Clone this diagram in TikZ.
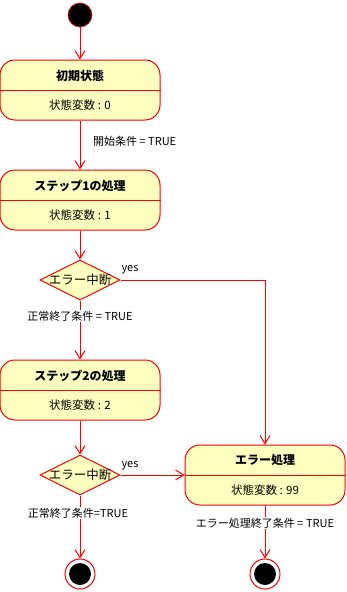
\documentclass[tikz,border=0pt]{standalone}
\usepackage{fontspec}
\setmainfont{Noto Sans CJK JP}
\usetikzlibrary{arrows.meta,shapes.geometric,positioning}
\definecolor{stroke}{HTML}{FF0000}
\definecolor{pale}{HTML}{FFFFC0}
\begin{document}
\begin{tikzpicture}[x=1pt,y=-1pt,
  statebox/.style={draw=stroke,fill=pale,line width=1pt,rounded corners=15pt,minimum width=160pt,minimum height=60pt,inner sep=0pt},
  decision/.style={draw=stroke,fill=pale,line width=1pt,diamond,aspect=2,minimum width=80pt,minimum height=40pt,inner sep=0pt},
  ttl/.style={font=\fontsize{12}{14}\selectfont\bfseries,inner sep=0pt},
  var/.style={font=\fontsize{11.5}{13}\selectfont,inner sep=0pt},
  dtxt/.style={font=\fontsize{12.5}{14}\selectfont,inner sep=0pt},
  lbl/.style={font=\fontsize{11}{13}\selectfont,inner sep=1pt},
  lblbg/.style={lbl,fill=white},
  arr/.style={draw=stroke,line width=1pt,-{Straight Barb[length=8pt,width=10pt,line width=1pt]}},
  conn/.style={draw=stroke,line width=1pt},
  startdot/.style={circle,fill=black,draw=stroke,line width=0.6pt,minimum size=24pt,inner sep=0pt},
  endring/.style={circle,fill=white,draw=stroke,line width=1pt,minimum size=30pt,inner sep=0pt},
  enddot/.style={circle,fill=black,minimum size=22pt,inner sep=0pt}]
\useasboundingbox (0,0) rectangle (346,592);

% start
\node[startdot] (start) at (80,15) {};

% states
\node[statebox] (s1) at (80,90) {};
\draw[conn] (s1.west) -- (s1.east);
\node[ttl] (s1t) at (80,76) {初期状態};
\node[var] (s1v) at (80,105) {状態変数 : 0};

\node[statebox] (s2) at (80,200) {};
\draw[conn] (s2.west) -- (s2.east);
\node[ttl] (s2t) at (80,186) {ステップ1の処理};
\node[var] (s2v) at (80,215) {状態変数 : 1};

\node[decision] (d1) at (80,280) {};
\node[dtxt] (d1t) at (80,280) {エラー中断};

\node[statebox] (s3) at (80,390) {};
\draw[conn] (s3.west) -- (s3.east);
\node[ttl] (s3t) at (80,376) {ステップ2の処理};
\node[var] (s3v) at (80,405) {状態変数 : 2};

\node[decision] (d2) at (80,475) {};
\node[dtxt] (d2t) at (80,475) {エラー中断};

\node[statebox] (err) at (265,475) {};
\draw[conn] (err.west) -- (err.east);
\node[ttl] (errt) at (265,460) {エラー処理};
\node[var] (errv) at (265,490) {状態変数 : 99};

% ends
\node[endring] (e1) at (80,574) {};
\node[enddot] (e1d) at (80,574) {};
\node[endring] (e2) at (265,574) {};
\node[enddot] (e2d) at (265,574) {};

% connectors
\draw[arr] (start) -- (s1);
\draw[arr] (s1) -- (s2);
\node[lbl,anchor=west] (l1) at (92,141) {開始条件 = TRUE};
\draw[arr] (s2) -- (d1);
\draw[arr] (d1.east) -| (err.north);
\node[lbl] (y1) at (130,270) {yes};
\draw[arr] (d1) -- (s3);
\node[lblbg] (l2) at (80,316) {正常終了条件 = TRUE};
\draw[arr] (s3) -- (d2);
\draw[arr] (d2.east) -- (err.west);
\node[lbl] (y2) at (130,466) {yes};
\draw[arr] (d2) -- (e1);
\node[lblbg] (l3) at (78,513) {正常終了条件=TRUE};
\draw[arr] (err) -- (e2);
\node[lblbg] (l4) at (265,523) {エラー処理終了条件 = TRUE};
\end{tikzpicture}
\end{document}
